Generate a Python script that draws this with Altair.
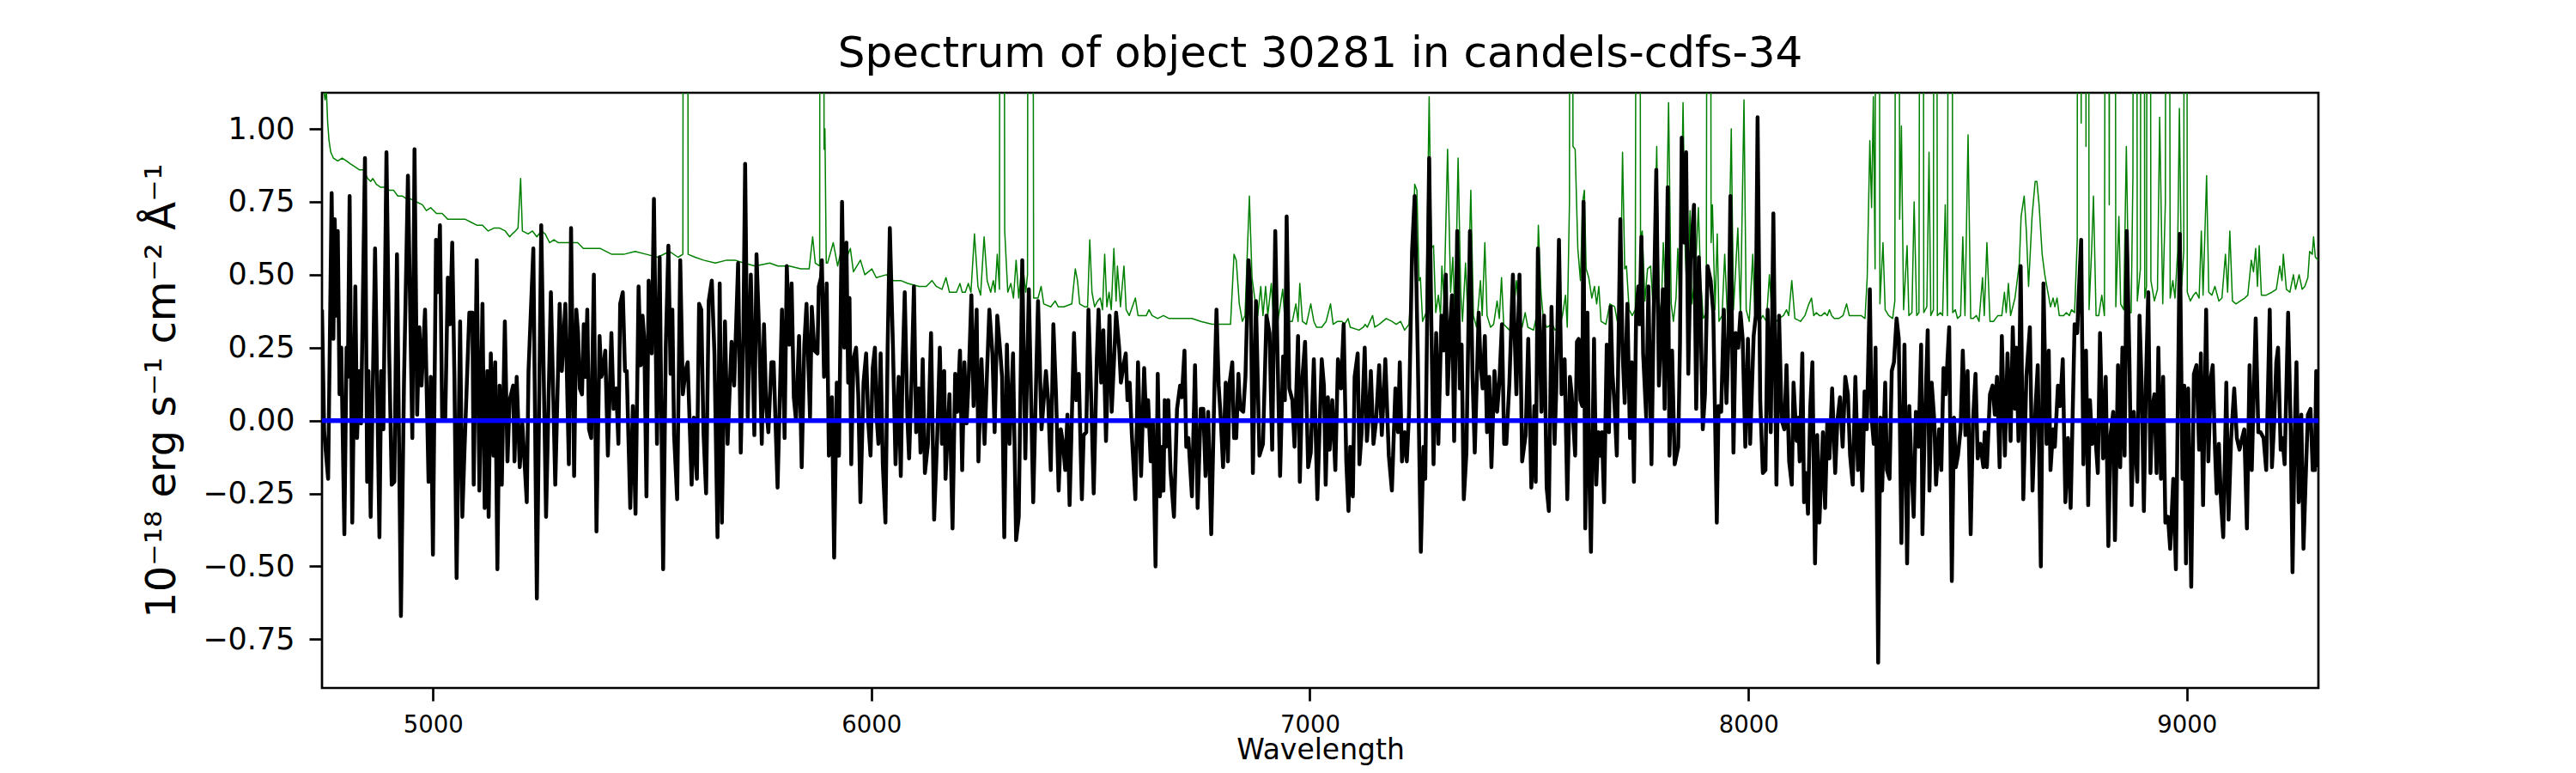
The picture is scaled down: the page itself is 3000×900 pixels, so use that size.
import altair as alt
import pandas as pd

TITLE = "Spectrum of object 30281 in candels-cdfs-34"
Y_TITLE = "10⁻¹⁸ erg s⁻¹ cm⁻² Å⁻¹"
X_TITLE = "Wavelength"
X_TICKS = [5000, 6000, 7000, 8000, 9000]
Y_TICKS = [-0.75, -0.5, -0.25, 0.0, 0.25, 0.5, 0.75, 1.0]
X_RANGE = [4747, 9300]
Y_RANGE = [-0.917, 1.124]
ZERO_LEVEL = [0.0]

# ---- object flux (black) in eight wavelength pieces ----
FLUX_WAVE_1 = [4747,4752,4761,4769,4773,4776,4780,4783,4787,4791,4798,4803,4806,4810,4816,4823,4827,4832,4836,4845,
               4850,4853,4858,4868,4878,4882,4887,4894,4900,4906,4912,4918,4927,4934,4943,4953,4958,4964,4969,4974,
               4982,4990,4995,5000,5007,5011,5016,5021,5028,5034,5039,5044,5049,5054,5062,5067,5072,5083,5090,5093,
               5100,5106,5113,5118,5124,5127,5132,5138,5142,5147,5152,5157,5164,5170,5175,5183,5186,5191,5198,5204,
               5214,5218,5229,5237,5247,5258,5269,5279,5289,5294,5302,5310,5315]
FLUX_VAL_1 = [0.38,-0.04,-0.20,0.78,0.28,0.69,0.36,0.65,0.09,0.25,-0.39,0.25,0.15,0.77,-0.35,0.46,-0.06,0.17,-0.01,0.90,
              -0.21,0.17,-0.33,0.59,-0.40,0.17,-0.03,0.92,0.25,-0.22,-0.21,0.57,-0.67,0.13,0.84,-0.06,0.93,0.02,0.32,0.12,
              0.38,-0.21,0.15,-0.46,0.62,0.44,0.67,0.01,0.00,0.49,0.33,0.61,0.15,-0.54,0.34,-0.33,-0.10,0.37,0.37,-0.22,
              0.55,-0.24,0.40,-0.30,0.17,-0.33,0.23,-0.12,0.20,-0.51,0.12,-0.22,0.34,-0.14,0.07,0.12,-0.14,0.15,-0.16,-0.01,
              -0.28,0.17,0.59,-0.61,0.67,-0.33,0.44,-0.22,0.40,0.17,0.40,-0.15,0.66]

FLUX_WAVE_2 = [5322,5327,5331,5335,5340,5344,5348,5352,5356,5361,5367,5373,5380,5384,5388,5393,5399,5407,5412,5418,
               5423,5427,5433,5438,5442,5450,5456,5462,5469,5474,5478,5482,5487,5492,5499,5504,5511,5517,5525,5531,
               5537,5542,5546,5550,5557,5564,5570,5576,5581,5590,5595,5602,5607,5612,5617,5623,5629,5636,5642,5649,
               5654,5659,5666,5672,5681,5687,5696,5702,5708,5712,5718,5725,5733,5738,5745,5750,5755,5760,5765,5772,
               5777,5786,5796,5802,5807,5813,5818,5823,5828,5835,5841,5847,5852,5860,5864,5870,5877,5880,5885]
FLUX_VAL_2 = [-0.19,0.38,0.30,0.11,0.09,0.33,0.15,0.38,-0.03,-0.06,0.50,-0.38,0.29,0.15,0.17,0.24,-0.12,0.30,0.04,0.11,
              -0.08,0.40,0.44,0.17,0.17,-0.30,0.05,-0.32,0.46,0.19,0.36,0.28,-0.26,0.48,0.23,0.76,-0.08,0.56,-0.51,0.25,
              0.60,0.16,0.38,-0.05,-0.27,0.55,0.09,0.17,0.20,-0.22,0.01,-0.20,0.40,0.38,-0.04,-0.25,0.41,0.48,0.23,-0.40,
              0.47,-0.35,0.34,-0.08,0.27,0.12,0.54,-0.11,0.30,0.88,0.01,0.50,-0.05,0.57,0.25,-0.08,0.33,0.05,-0.04,0.20,
              0.20,-0.23,0.38,-0.06,0.53,0.26,0.47,0.08,0.00,0.29,-0.16,0.26,0.40,0.01,0.39,0.24,0.23,0.46,0.49]

FLUX_WAVE_3 = [5887,5892,5898,5903,5910,5915,5921,5926,5933,5938,5943,5947,5950,5954,5959,5965,5970,5975,5982,5988,
               5993,5998,6003,6008,6012,6016,6021,6026,6032,6037,6042,6049,6055,6062,6067,6071,6076,6082,6086,6091,
               6097,6102,6108,6112,6117,6122,6129,6136,6143,6150,6156,6161,6166,6169,6178,6185,6191,6196,6202,6207,
               6212,6217,6222,6228,6233,6240,6244,6251,6258,6264,6269,6276,6281,6287,6293,6298,6303,6309,6315,6323,
               6330,6336,6344,6351,6359,6369,6380,6388,6398,6403,6409,6415,6421,6427,6432,6437,6442,6447,6452]
FLUX_VAL_3 = [0.55,0.15,0.47,-0.12,0.08,-0.47,0.13,-0.12,0.75,0.25,0.61,0.13,0.42,-0.15,0.21,0.25,0.09,-0.28,0.13,0.23,
              -0.01,-0.12,0.18,0.25,0.01,-0.08,0.23,-0.15,-0.35,0.25,0.66,0.26,-0.15,0.15,-0.19,0.17,0.44,0.01,-0.13,0.11,
              0.46,-0.04,0.11,-0.11,0.21,-0.18,-0.08,0.30,-0.34,-0.06,0.25,-0.08,0.17,-0.20,0.09,-0.37,0.16,0.03,0.24,-0.17,
              0.20,-0.01,0.15,0.43,0.05,0.38,-0.14,0.21,-0.08,0.18,0.38,0.23,-0.04,0.36,0.25,0.15,-0.40,0.26,-0.08,0.23,
              -0.41,-0.33,0.55,-0.13,0.45,-0.28,0.41,-0.03,0.17,0.07,-0.17,0.33,0.09,-0.24,-0.03,-0.08,-0.17,0.02,-0.29]

FLUX_WAVE_4 = [6462,6467,6470,6473,6480,6484,6490,6495,6501,6507,6514,6518,6524,6529,6535,6543,6548,6554,6558,6565,
               6569,6575,6580,6584,6589,6594,6602,6608,6615,6622,6627,6631,6637,6642,6648,6653,6658,6663,6666,6669,
               6672,6677,6682,6690,6697,6704,6708,6714,6718,6723,6731,6738,6744,6751,6757,6762,6768,6775,6782,6787,
               6792,6797,6802,6808,6813,6817,6823,6827,6832,6837,6841,6848,6853,6860,6865,6870,6877,6885,6893,6901,
               6908,6914,6921,6926,6932,6939,6943,6947,6953,6960,6965,6973,6977,6983,6989,6996,7002,7009,7017]
FLUX_VAL_4 = [0.30,0.07,0.11,0.16,-0.27,-0.05,-0.04,0.38,0.09,-0.25,0.21,0.38,0.13,0.31,-0.07,0.36,0.03,0.23,0.37,0.25,
              0.13,0.19,0.23,0.07,0.13,-0.05,-0.27,0.20,-0.19,0.18,-0.02,0.07,-0.14,-0.01,-0.50,0.16,-0.26,-0.09,-0.24,0.07,
              -0.09,0.07,-0.17,-0.33,0.04,0.12,0.08,0.24,-0.09,-0.06,-0.26,0.19,-0.30,0.04,0.04,-0.19,0.03,-0.39,0.09,0.38,
              0.12,0.00,-0.16,0.13,-0.14,0.13,0.20,-0.06,-0.06,0.16,0.04,0.03,0.15,0.55,0.44,-0.18,0.41,-0.12,-0.08,0.36,
              0.30,-0.10,0.65,0.24,-0.19,0.22,0.07,0.70,0.11,0.07,-0.09,0.29,-0.21,0.15,0.27,-0.16,-0.11,0.21,-0.27]

FLUX_WAVE_5 = [7027,7032,7036,7041,7045,7051,7058,7064,7071,7077,7083,7088,7092,7098,7102,7109,7113,7118,7125,7130,
               7135,7139,7145,7151,7158,7164,7172,7180,7187,7195,7201,7205,7210,7216,7221,7226,7233,7239,7246,7253,
               7259,7263,7272,7277,7282,7288,7293,7300,7305,7310,7314,7320,7324,7329,7336,7342,7346,7351,7357,7365,
               7371,7376,7385,7389,7394,7399,7404,7409,7414,7421,7427,7432,7438,7443,7448,7455,7463,7471,7478,7484,
               7492,7498,7505,7512,7515,7520,7528,7534,7540,7545,7551,7558,7562,7568,7574,7581,7587,7593]
FLUX_VAL_5 = [0.21,0.12,-0.22,0.08,-0.10,0.07,-0.17,0.21,0.11,0.33,-0.14,-0.31,-0.09,-0.26,0.15,0.23,-0.15,-0.04,0.25,-0.07,
              0.04,0.17,-0.08,0.00,0.19,-0.05,0.21,-0.12,-0.24,0.11,-0.04,0.20,-0.14,-0.04,-0.14,0.02,0.58,0.77,0.23,-0.45,
              -0.09,-0.20,0.90,0.33,-0.15,0.30,-0.08,0.36,0.24,0.50,0.09,0.33,0.43,-0.07,0.65,0.11,0.26,-0.27,-0.11,0.65,
              0.15,-0.11,0.37,0.20,0.11,0.29,-0.04,0.15,-0.16,0.17,0.03,0.13,0.33,-0.08,-0.08,0.13,0.50,0.09,0.50,-0.14,
              -0.05,0.28,-0.23,0.05,-0.21,0.59,0.03,0.36,-0.23,-0.31,0.39,-0.08,0.11,0.62,0.09,0.21,-0.27,0.15]

FLUX_WAVE_6 = [7597,7605,7609,7613,7617,7621,7624,7628,7633,7637,7641,7648,7653,7658,7662,7666,7671,7677,7682,7686,
               7690,7695,7700,7708,7713,7718,7724,7730,7734,7739,7744,7749,7752,7756,7760,7767,7772,7779,7784,7790,
               7796,7799,7805,7809,7816,7820,7826,7832,7840,7844,7848,7854,7858,7863,7868,7876,7881,7887,7891,7896,
               7901,7907,7914,7920,7928,7932,7938,7944,7950,7955,7959,7966,7971,7977,7982,7987,7993,7999,8004,8012,
               8017,8021,8027,8033,8039,8044,8051,8057,8064,8070,8076,8082,8087,8093,8099,8103,8110,8114,8117,8123,
               8127,8131,8136,8141,8146,8152,8157,8162]
FLUX_VAL_6 = [0.09,-0.12,0.27,0.28,0.07,0.05,0.75,-0.37,0.37,-0.17,-0.45,0.28,-0.22,-0.04,-0.12,-0.04,-0.28,0.26,-0.04,0.39,
              0.16,0.05,-0.12,0.69,0.24,0.06,0.40,-0.06,0.20,-0.21,0.36,0.46,0.33,0.63,0.23,0.01,0.46,-0.15,0.36,0.86,
              0.12,0.23,0.45,0.04,0.80,-0.12,0.24,-0.15,-0.09,0.26,0.97,0.61,0.92,0.16,0.55,0.74,0.04,0.56,0.38,-0.03,
              0.09,0.53,0.48,0.37,-0.35,0.05,0.03,0.38,0.06,0.29,0.77,-0.11,0.30,0.25,0.37,0.28,-0.09,0.28,-0.08,0.29,
              0.36,1.04,0.07,-0.18,-0.17,0.38,-0.04,0.71,-0.22,0.36,0.00,-0.03,0.19,-0.14,-0.22,0.13,-0.07,0.01,-0.14,0.23,
              -0.28,-0.18,-0.32,0.04,0.20,-0.49,-0.05,-0.35]

FLUX_WAVE_7 = [8170,8175,8180,8185,8191,8198,8203,8209,8215,8221,8227,8232,8238,8244,8250,8255,8260,8265,8270,8277,
               8281,8286,8290,8296,8301,8305,8312,8316,8322,8327,8332,8338,8343,8349,8356,8362,8367,8371,8377,8382,
               8388,8394,8397,8402,8409,8413,8418,8424,8428,8435,8440,8445,8450,8458,8464,8469,8473,8478,8484,8489,
               8495,8500,8507,8512,8518,8523,8529,8536,8539,8544,8551,8557,8562,8567,8573,8578,8585,8591,8598,8603,
               8608,8611,8616,8621,8627,8634,8642,8648,8655,8660,8667,8673,8680,8685,8689,8695,8699,8706,8711,8717,
               8723,8729,8735]
FLUX_VAL_7 = [-0.04,-0.30,0.00,-0.13,0.11,-0.18,0.00,0.08,-0.09,0.15,0.09,-0.12,-0.22,0.15,-0.17,-0.01,-0.24,0.10,-0.03,0.45,
              0.01,-0.08,0.25,-0.83,0.01,-0.24,0.13,-0.17,-0.20,0.17,0.20,0.35,0.28,-0.42,0.26,-0.49,0.05,-0.12,-0.33,0.03,
              -0.09,0.26,-0.39,-0.03,0.31,-0.24,0.13,0.00,-0.22,-0.03,-0.17,0.18,0.09,0.32,-0.55,0.01,-0.16,-0.12,-0.03,0.24,
              -0.05,0.17,-0.39,-0.01,0.16,-0.13,-0.08,-0.16,-0.04,-0.16,0.09,0.12,0.02,0.15,-0.16,0.29,-0.12,0.23,-0.07,0.32,
              0.04,0.25,-0.07,0.53,-0.27,0.15,0.32,-0.24,0.05,0.19,-0.50,0.47,-0.08,0.24,-0.17,-0.03,-0.09,0.12,0.05,0.21,
              -0.28,-0.06,-0.30]

FLUX_WAVE_8 = [8744,8750,8753,8759,8764,8770,8775,8779,8784,8789,8797,8802,8809,8815,8821,8826,8832,8836,8843,8848,
               8853,8858,8863,8869,8874,8879,8887,8892,8897,8902,8907,8912,8917,8921,8926,8931,8935,8941,8946,8951,
               8957,8962,8969,8975,8984,8990,8994,8998,9003,9010,9016,9022,9028,9032,9037,9044,9049,9055,9059,9064,
               9068,9073,9078,9083,9090,9095,9101,9108,9114,9120,9126,9131,9137,9143,9148,9157,9163,9168,9175,9181,
               9189,9194,9199,9204,9208,9214,9218,9223,9231,9237,9241,9246,9250,9255,9261,9266,9271,9276,9282,9287,
               9292,9295,9300]
FLUX_VAL_8 = [0.33,0.30,0.42,0.62,-0.15,0.24,-0.29,0.07,-0.08,0.00,-0.18,0.30,-0.13,0.15,-0.43,-0.05,0.03,-0.41,0.19,-0.16,
              0.25,-0.12,0.65,0.21,-0.29,0.03,-0.21,0.36,0.12,-0.31,0.15,0.44,-0.18,0.04,0.09,-0.18,0.25,-0.20,0.15,-0.35,
              -0.33,-0.44,-0.20,-0.51,0.64,-0.20,0.12,-0.49,0.11,-0.57,0.16,0.19,-0.10,0.23,-0.29,0.38,-0.14,0.15,0.19,-0.09,
              -0.25,-0.08,-0.28,-0.40,0.13,-0.34,-0.06,0.11,-0.06,-0.10,-0.06,-0.03,-0.37,0.19,-0.17,0.35,-0.04,-0.04,-0.06,-0.17,
              0.38,-0.16,-0.01,0.20,0.25,-0.10,-0.06,-0.15,0.37,-0.04,-0.52,-0.04,0.20,-0.28,0.02,-0.44,-0.20,0.02,0.04,-0.17,
              -0.17,0.17,-0.16]

# ---- noise / sky spectrum (green); 5.0 marks sky lines that run off the top ----
NOISE_WAVE_1 = [4747,4751,4754,4757,4760,4763,4767,4773,4783,4793,4803,4812,4822,4832,4842,4851,4858,4863,4871,4881,
                4891,4900,4910,4920,4930,4940,4949,4962,4976,4985,4995,5008,5021,5034,5047,5060,5074,5087,5100,5113,
                5126,5139,5152,5165,5175,5181,5188,5194,5200,5204,5217,5227,5237,5247,5256,5266,5276,5286,5299,5312]
NOISE_VAL_1 = [1.25,1.13,1.10,1.13,1.02,0.96,0.92,0.90,0.89,0.90,0.89,0.88,0.87,0.86,0.86,0.83,0.82,0.83,0.81,0.80,
               0.80,0.79,0.79,0.77,0.77,0.76,0.76,0.75,0.74,0.72,0.73,0.71,0.71,0.69,0.69,0.69,0.69,0.68,0.67,0.67,
               0.65,0.66,0.66,0.65,0.63,0.64,0.65,0.66,0.83,0.65,0.64,0.65,0.63,0.65,0.64,0.61,0.62,0.61,0.61,0.61]

NOISE_WAVE_2 = [5330,5343,5369,5382,5408,5435,5461,5487,5513,5539,5559,5570,5573,5579,5582,5598,5617,5644,5670,5689,
                5709,5735,5768,5787,5813,5839,5858,5866,5872,5882,5884,5889,5892,5894,5897,5900]
NOISE_VAL_2 = [0.61,0.59,0.59,0.59,0.57,0.57,0.58,0.57,0.56,0.58,0.56,0.57,5.0,5.0,0.57,0.56,0.55,0.54,0.55,0.55,
               0.54,0.53,0.54,0.53,0.53,0.52,0.52,0.63,0.54,0.53,5.0,5.0,0.93,1.00,0.54,0.54]

NOISE_WAVE_3 = [5913,5923,5929,5936,5952,5959,5975,5985,6001,6011,6034,6050,6067,6083,6109,6125,6138,6148,6161,6170,
                6178,6194,6202,6207,6214,6221,6227,6235,6243,6249,6257,6264,6272,6278,6282,6287,6292,6295,6299,6304,
                6311,6318,6324,6330,6336,6344,6352,6356,6359,6365,6370,6380,6387,6393,6409,6419,6426,6439,6457]
NOISE_VAL_3 = [0.61,0.53,0.57,0.53,0.59,0.51,0.55,0.50,0.52,0.49,0.50,0.48,0.48,0.47,0.46,0.46,0.48,0.46,0.45,0.49,
               0.44,0.44,0.47,0.44,0.44,0.47,0.44,0.64,0.46,0.43,0.63,0.48,0.44,0.48,0.44,0.57,0.45,5.0,5.0,0.65,
               0.44,0.47,0.42,0.55,0.42,0.55,0.44,0.50,5.0,5.0,0.42,0.42,0.46,0.40,0.39,0.41,0.39,0.39,0.40]

NOISE_WAVE_4 = [6465,6470,6475,6486,6493,6498,6503,6509,6516,6522,6527,6532,6537,6542,6547,6553,6558,6561,6568,6576,
                6581,6588,6595,6602,6608,6627,6633,6640,6653,6666,6679,6699,6715,6731,6751,6777,6797,6819,6827,6832,
                6839,6846,6852,6862,6868,6875,6881,6888,6893,6899,6904,6912,6917,6927,6938,6943,6953,6960,6968,6973,
                6977,6983,6992,7002,7009,7015,7027]
NOISE_VAL_4 = [0.52,0.48,0.40,0.39,0.39,0.62,0.44,0.39,0.41,0.42,0.38,0.57,0.39,0.44,0.38,0.59,0.41,0.53,0.39,0.53,
               0.38,0.36,0.39,0.42,0.36,0.36,0.38,0.36,0.35,0.36,0.35,0.35,0.35,0.35,0.34,0.33,0.33,0.33,0.57,0.55,
               0.40,0.34,0.36,0.77,0.49,0.41,0.36,0.46,0.36,0.46,0.36,0.47,0.35,0.34,0.45,0.34,0.34,0.34,0.40,0.34,
               0.47,0.34,0.33,0.40,0.34,0.32,0.32]

NOISE_WAVE_5 = [7037,7047,7053,7063,7073,7079,7087,7092,7112,7122,7126,7131,7143,7148,7158,7174,7187,7197,7207,7216,
                7226,7233,7239,7244,7249,7252,7257,7265,7272,7277,7282,7287,7293,7298,7301,7306,7314,7321,7326,7331,
                7338,7344,7348,7355,7360,7367,7373,7380,7389,7393,7399,7404,7412,7419,7427,7432,7437,7442,7455,7465,
                7471,7478,7484,7491,7497,7510,7517,7521,7527,7533,7540,7553,7559,7569,7576,7583,7587,7592,7594,7596]
NOISE_VAL_5 = [0.34,0.40,0.33,0.34,0.34,0.33,0.35,0.32,0.31,0.32,0.33,0.32,0.36,0.32,0.33,0.35,0.34,0.33,0.34,0.31,
               0.33,0.49,0.81,0.79,0.48,0.49,0.34,0.37,1.11,0.59,0.60,0.37,0.43,0.36,0.53,0.41,0.93,0.44,0.56,0.34,
               0.90,0.44,0.34,0.54,0.36,0.79,0.36,0.32,0.48,0.36,0.61,0.36,0.32,0.33,0.41,0.35,0.49,0.33,0.31,0.38,
               0.48,0.36,0.32,0.37,0.32,0.31,0.36,0.67,0.44,0.34,0.32,0.33,0.31,0.32,0.36,0.43,0.32,0.75,5.0,5.0]

NOISE_WAVE_6 = [7600,7605,7611,7617,7622,7626,7630,7636,7643,7649,7654,7659,7664,7675,7684,7695,7701,7708,7713,7718,
                7722,7728,7735,7742,7748,7750,7754,7758,7764,7770,7777,7783,7791,7796,7801,7806,7811,7818,7824,7829,
                7835,7839,7844,7851,7856,7861,7867,7871,7879,7886,7891,7897,7904,7909,7911,7915,7918,7924,7929,7933,
                7940,7946,7953,7961,7966,7976,7982,7990,7995,8002,8010,8015,8025,8033,8041,8048,8054,8064,8070,8080,
                8087,8092,8099,8106,8119,8129,8138,8144,8149,8155,8162,8167]
NOISE_VAL_6 = [0.94,0.93,0.59,0.48,0.75,0.79,0.52,0.49,0.42,0.46,0.40,0.46,0.34,0.33,0.40,0.39,0.34,0.38,0.92,0.52,
               0.53,0.38,0.36,0.38,5.0,5.0,0.63,0.65,0.41,0.52,0.53,0.38,0.94,0.41,0.36,0.61,0.44,1.09,0.40,0.34,
               0.42,0.59,0.37,1.09,0.58,0.40,0.72,0.40,0.50,0.73,0.49,0.35,0.37,5.0,5.0,0.61,0.74,0.38,0.64,0.34,
               0.36,0.57,0.33,1.00,0.38,0.66,0.36,1.10,0.38,0.34,0.57,0.36,0.34,0.36,0.34,0.50,0.36,0.34,0.35,0.36,
               0.38,0.36,0.48,0.35,0.34,0.36,0.40,0.42,0.36,0.37,0.36,0.36]

NOISE_WAVE_7 = [8174,8180,8185,8190,8196,8206,8216,8224,8230,8239,8249,8257,8266,8271,8277,8281,8285,8289,8293,8295,
                8300,8307,8312,8320,8329,8334,8339,8341,8345,8349,8354,8362,8366,8373,8378,8384,8389,8395,8397,8400,
                8407,8412,8416,8422,8425,8427,8431,8438,8443,8449,8454,8460,8462,8466,8472,8477,8484,8489,8494,8501,
                8507,8513,8520,8526,8534,8538,8544,8551,8559,8569,8578,8584,8588,8593,8598,8608,8618,8622,8629,8634,
                8639,8647,8654,8658,8663,8670,8676,8683,8689,8695,8699,8704,8709,8719,8725,8732,8737]
NOISE_VAL_7 = [0.37,0.36,0.38,0.36,0.35,0.35,0.36,0.40,0.36,0.36,0.36,0.36,0.35,0.49,0.96,0.73,1.11,0.52,5.0,5.0,
               0.40,0.61,0.38,0.36,0.35,0.41,5.0,5.0,0.69,1.01,0.38,0.60,0.36,0.37,0.75,0.36,0.37,5.0,5.0,0.37,
               0.39,0.92,0.36,0.38,5.0,5.0,0.36,0.37,0.36,0.74,0.36,5.0,5.0,0.37,0.38,0.35,0.36,0.63,0.36,0.98,
               0.35,0.35,0.36,0.34,0.49,0.36,0.61,0.34,0.34,0.36,0.36,0.44,0.37,0.47,0.36,0.42,0.54,0.70,0.77,0.65,
               0.46,0.70,0.82,0.82,0.74,0.57,0.50,0.44,0.39,0.42,0.39,0.42,0.36,0.36,0.37,0.36,0.38]

NOISE_WAVE_8 = [8744,8750,8752,8754,8759,8761,8767,8770,8772,8774,8777,8783,8787,8793,8799,8806,8812,8818,8820,8823,
                8827,8834,8838,8845,8849,8856,8862,8868,8873,8877,8881,8883,8887,8894,8898,8900,8904,8908,8912,8914,
                8918,8926,8933,8938,8945,8951,8955,8957,8962,8968,8973,8979,8983,8988,8993,8996,8998,9001,9008,9015,
                9021,9028,9033,9037,9045,9050,9057,9064,9073,9080,9088,9093,9098,9104,9112,9122,9132,9139,9147,9152,
                9157,9161,9165,9170,9181,9194,9204,9212,9217,9220,9227,9235,9243,9248,9256,9263,9269,9276,9280,9286,
                9289,9293,9300]
NOISE_VAL_8 = [0.37,0.62,5.0,5.0,1.02,5.0,5.0,0.94,5.0,5.0,0.38,0.59,0.77,0.36,0.36,0.43,0.36,5.0,5.0,0.74,
               5.0,5.0,0.39,0.70,0.40,0.38,0.94,0.37,0.37,0.84,5.0,5.0,0.41,0.52,5.0,5.0,0.42,0.46,5.0,5.0,
               0.48,0.41,0.45,1.04,0.40,0.75,5.0,5.0,0.42,0.48,0.42,0.58,1.07,0.46,0.58,5.0,5.0,0.44,0.41,0.43,
               0.44,0.42,0.65,0.43,0.84,0.44,0.43,0.46,0.41,0.42,0.57,0.44,0.65,0.41,0.40,0.41,0.42,0.43,0.55,0.51,
               0.59,0.46,0.60,0.43,0.43,0.44,0.45,0.53,0.48,0.57,0.45,0.44,0.50,0.45,0.50,0.45,0.46,0.49,0.58,0.57,
               0.63,0.56,0.55]

FLUX_WAVES = [FLUX_WAVE_1, FLUX_WAVE_2, FLUX_WAVE_3, FLUX_WAVE_4, FLUX_WAVE_5, FLUX_WAVE_6, FLUX_WAVE_7, FLUX_WAVE_8]
FLUX_VALS = [FLUX_VAL_1, FLUX_VAL_2, FLUX_VAL_3, FLUX_VAL_4, FLUX_VAL_5, FLUX_VAL_6, FLUX_VAL_7, FLUX_VAL_8]
NOISE_WAVES = [NOISE_WAVE_1, NOISE_WAVE_2, NOISE_WAVE_3, NOISE_WAVE_4, NOISE_WAVE_5, NOISE_WAVE_6, NOISE_WAVE_7, NOISE_WAVE_8]
NOISE_VALS = [NOISE_VAL_1, NOISE_VAL_2, NOISE_VAL_3, NOISE_VAL_4, NOISE_VAL_5, NOISE_VAL_6, NOISE_VAL_7, NOISE_VAL_8]


def table(wave_parts, val_parts):
    rows = []
    for ws, vs in zip(wave_parts, val_parts, strict=True):
        for w, v in zip(ws, vs, strict=True):
            rows.append((w, v))
    return pd.DataFrame(rows, columns=["wave", "flux"]).sort_values("wave")


flux_df = table(FLUX_WAVES, FLUX_VALS)
noise_df = table(NOISE_WAVES, NOISE_VALS)
zero_df = pd.DataFrame({"flux": ZERO_LEVEL})

FONT = "DejaVu Sans"

x_enc = alt.X(
    "wave:Q",
    scale=alt.Scale(domain=X_RANGE, nice=False, zero=False),
    axis=alt.Axis(
        values=X_TICKS, format="d", title=X_TITLE,
        labelFontSize=27.5, labelPadding=14,
        titleFontSize=33, titleY=82, titleBaseline="alphabetic",
    ),
)
y_enc = alt.Y(
    "flux:Q",
    scale=alt.Scale(domain=Y_RANGE, nice=False, zero=False),
    axis=alt.Axis(
        values=Y_TICKS, format=".2f", title=Y_TITLE,
        labelFontSize=35, labelPadding=17,
        titleFontSize=48, titleAngle=270, titleX=-172, titleY=346.5,
        titleAlign="center", titleBaseline="alphabetic",
    ),
)

noise_line = alt.Chart(noise_df).mark_line(
    color="#008000", strokeWidth=1.5, clip=True, strokeJoin="round"
).encode(x=x_enc, y=y_enc)

flux_line = alt.Chart(flux_df).mark_line(
    color="black", strokeWidth=4.5, clip=True, strokeJoin="round"
).encode(x=x_enc, y=y_enc)

zero_line = alt.Chart(zero_df).mark_rule(
    color="#0000ff", strokeWidth=5.5, clip=True
).encode(y=y_enc)

chart = (
    alt.layer(noise_line, flux_line, zero_line)
    .properties(
        width=2325,
        height=693,
        title=alt.TitleParams(
            TITLE, fontSize=50, font=FONT, fontWeight="normal", color="black",
            anchor="middle", frame="group", baseline="alphabetic", offset=25, dy=45,
        ),
        padding={"left": 367, "top": 100, "right": 292, "bottom": 91},
        autosize=alt.AutoSizeParams(type="none"),
    )
    .configure_view(stroke="black", strokeWidth=2.7)
    .configure_axis(
        domain=False, grid=False, ticks=True, tickColor="black", tickWidth=2.7, tickSize=15,
        labelFont=FONT, labelColor="black", titleFont=FONT, titleColor="black",
        titleFontWeight="normal", labelOverlap=False,
    )
)

chart.save("out.html", embed_options={"renderer": "svg", "actions": False})
